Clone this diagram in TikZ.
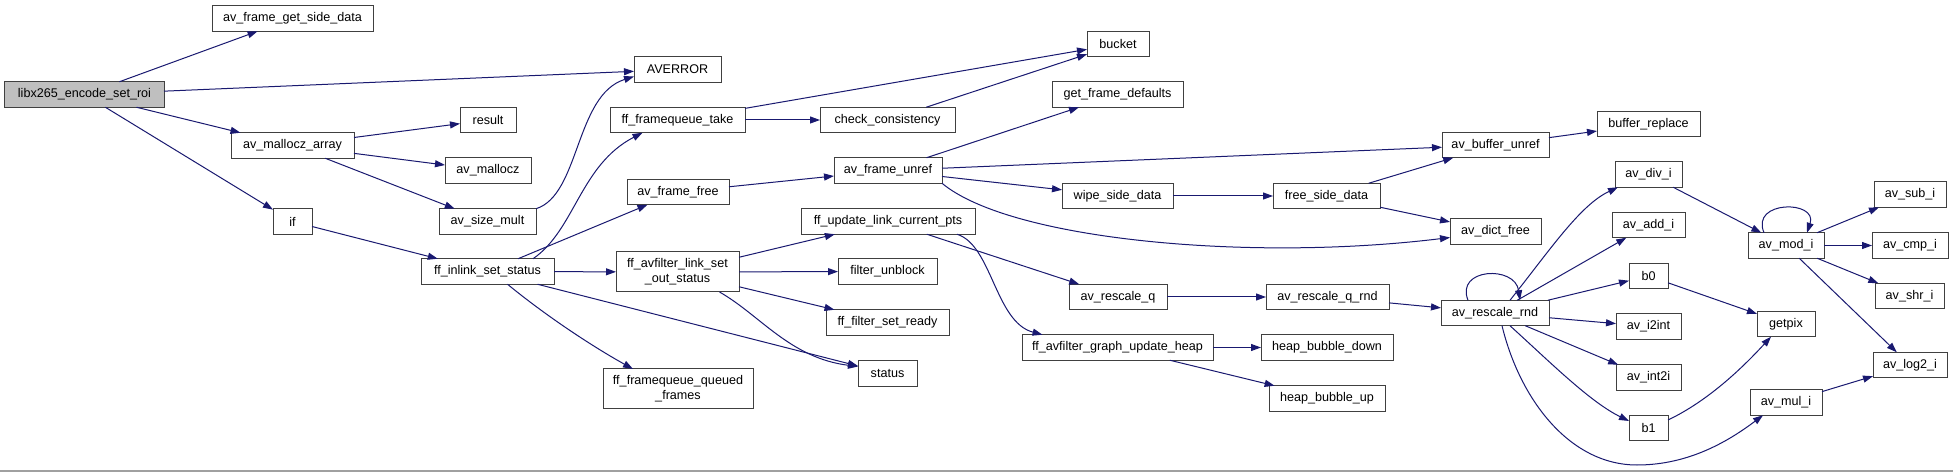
\documentclass[tikz,border=0pt]{standalone}
\usepackage{fontspec}
\setmainfont{Liberation Sans}
\usetikzlibrary{arrows.meta}
\definecolor{edgec}{HTML}{191970}
\definecolor{boxc}{HTML}{404040}
\definecolor{rootc}{HTML}{BFBFBF}
\definecolor{rulec}{HTML}{A0A0A0}
\begin{document}
\begin{tikzpicture}[x=1bp,y=-1bp,
 box/.style={draw=boxc, fill=white, line width=1bp, minimum height=25.5bp, inner sep=0pt, outer sep=0pt, font=\fontsize{12.6bp}{15bp}\selectfont, align=center},
 tall/.style={minimum height=40bp},
 edge/.style={draw=edgec, line width=1bp, -{Triangle[length=10bp,width=7bp]}},
]
\useasboundingbox (0,0) rectangle (1953,472);
\fill[white] (0,0) rectangle (1953,472);
\draw[rulec, line width=1.2bp] (0,471) -- (1953,471);

% nodes
\node[box, fill=rootc, minimum width=159bp] (root) at (84.5,94.5) {libx265\_encode\_set\_roi};
\node[box, minimum width=161bp] (afgsd) at (292.5,18.5) {av\_frame\_get\_side\_data};
\node[box, minimum width=87bp] (averror) at (677.5,69.5) {AVERROR};
\node[box, minimum width=123bp] (mza) at (292.5,145.5) {av\_mallocz\_array};
\node[box, minimum width=56bp] (result) at (488,120) {result};
\node[box, minimum width=86bp] (mz) at (488,170.5) {av\_mallocz};
\node[box, minimum width=97bp] (sizemult) at (487.5,221.5) {av\_size\_mult};
\node[box, minimum width=39bp] (if) at (292.5,221.5) {if};
\node[box, minimum width=133bp] (inlink) at (487.5,271.5) {ff\_inlink\_set\_status};
\node[box, minimum width=135bp] (fqtake) at (677.5,120) {ff\_framequeue\_take};
\node[box, minimum width=135bp] (check) at (887.5,120) {check\_consistency};
\node[box, minimum width=108bp] (unref) at (888,170.5) {av\_frame\_unref};
\node[box, minimum width=102bp] (ffree) at (678,192) {av\_frame\_free};
\node[box, minimum width=174bp] (updpts) at (888,221.5) {ff\_update\_link\_current\_pts};
\node[box, tall, minimum width=123bp] (setout) at (677.5,272) {ff\_avfilter\_link\_set\\\_out\_status};
\node[box, minimum width=99bp] (unblock) at (887.5,271.5) {filter\_unblock};
\node[box, minimum width=123bp] (ready) at (887.5,322.5) {ff\_filter\_set\_ready};
\node[box, minimum width=59bp] (status) at (887.5,373.5) {status};
\node[box, tall, minimum width=150bp] (queued) at (678,389) {ff\_framequeue\_queued\\\_frames};
\node[box, minimum width=62bp] (bucket) at (1118,44) {bucket};
\node[box, minimum width=131bp] (getdef) at (1117.5,94.5) {get\_frame\_defaults};
\node[box, minimum width=111bp] (wipe) at (1117.5,196) {wipe\_side\_data};
\node[box, minimum width=107bp] (freesd) at (1326.5,196) {free\_side\_data};
\node[box, minimum width=107bp] (bufunref) at (1495.5,145) {av\_buffer\_unref};
\node[box, minimum width=91bp] (dictfree) at (1495.5,231.5) {av\_dict\_free};
\node[box, minimum width=98bp] (rq) at (1118,297) {av\_rescale\_q};
\node[box, minimum width=123bp] (rqr) at (1327.5,297) {av\_rescale\_q\_rnd};
\node[box, minimum width=108bp] (rr) at (1495,313) {av\_rescale\_rnd};
\node[box, minimum width=191bp] (heap) at (1117.5,347.5) {ff\_avfilter\_graph\_update\_heap};
\node[box, minimum width=132bp] (hdown) at (1327,347.5) {heap\_bubble\_down};
\node[box, minimum width=116bp] (hup) at (1327,398.5) {heap\_bubble\_up};
\node[box, minimum width=103bp] (bufrep) at (1648.5,124) {buffer\_replace};
\node[box, minimum width=67bp] (divi) at (1648.5,174.5) {av\_div\_i};
\node[box, minimum width=73bp] (addi) at (1648.5,225) {av\_add\_i};
\node[box, minimum width=39bp] (b0) at (1648.5,276) {b0};
\node[box, minimum width=65bp] (i2int) at (1648.5,326.5) {av\_i2int};
\node[box, minimum width=65bp] (int2i) at (1648.5,377.5) {av\_int2i};
\node[box, minimum width=39bp] (b1) at (1648.5,428) {b1};
\node[box, minimum width=76bp] (modi) at (1786,245.5) {av\_mod\_i};
\node[box, minimum width=58bp] (getpix) at (1786,324) {getpix};
\node[box, minimum width=72bp] (muli) at (1786,402.5) {av\_mul\_i};
\node[box, minimum width=72bp] (subi) at (1910,194.5) {av\_sub\_i};
\node[box, minimum width=76bp] (cmpi) at (1910,245.5) {av\_cmp\_i};
\node[box, minimum width=69bp] (shri) at (1909.5,296) {av\_shr\_i};
\node[box, minimum width=74bp] (log2) at (1910,365) {av\_log2\_i};

% edges
\draw[edge] (root) -- (afgsd);
\draw[edge] (root) -- (averror);
\draw[edge] (root) -- (mza);
\draw[edge] (root) -- (if);
\draw[edge] (mza) -- (result);
\draw[edge] (mza) -- (mz);
\draw[edge] (mza) -- (sizemult);
\draw[edge] (sizemult.north east) .. controls (580,195) and (575,95) .. ([yshift=-7bp]averror.west);
\draw[edge] (if) -- (inlink);
\draw[edge] ([xshift=45.5bp]inlink.north) .. controls (575,230) and (580,165) .. ([xshift=-35bp]fqtake.south);
\draw[edge] (inlink) -- (ffree);
\draw[edge] (inlink) -- (setout);
\draw[edge] (inlink) -- (status);
\draw[edge] ([xshift=20bp]inlink.south) .. controls (545,315) and (590,345) .. ([xshift=-45bp]queued.north);
\draw[edge] (fqtake) -- (bucket);
\draw[edge] (fqtake) -- (check);
\draw[edge] (check) -- (bucket);
\draw[edge] (ffree) -- (unref);
\draw[edge] (unref) -- (getdef);
\draw[edge] (unref) -- (bufunref);
\draw[edge] (unref) -- (wipe);
\draw[edge] (unref.south east) .. controls (1010,240) and (1250,262) .. ([yshift=-6bp]dictfree.west);
\draw[edge] (wipe) -- (freesd);
\draw[edge] (freesd) -- (bufunref);
\draw[edge] (freesd) -- (dictfree);
\draw[edge] (bufunref) -- (bufrep);
\draw[edge] (setout) -- (updpts);
\draw[edge] (setout) -- (unblock);
\draw[edge] (setout) -- (ready);
\draw[edge] ([xshift=42bp]setout.south) .. controls (760,315) and (790,358) .. ([yshift=7bp]status.west);
\draw[edge] (updpts) -- (rq);
\draw[edge] ([xshift=69bp]updpts.south) .. controls (992,245) and (995,322) .. ([xshift=-75bp]heap.north);
\draw[edge] (rq) -- (rqr);
\draw[edge] (rqr) -- (rr);
\draw[edge] (heap) -- (hdown);
\draw[edge] (heap) -- (hup);
\draw[edge] ([xshift=-27bp]rr.north) .. controls (1455,268) and (1515,265) .. ([xshift=25bp]rr.north);
\draw[edge] ([xshift=15bp]rr.north) .. controls (1550,250) and (1580,205) .. ([xshift=3bp]divi.south west);
\draw[edge] (rr) -- (addi);
\draw[edge] (rr) -- (b0);
\draw[edge] (rr) -- (i2int);
\draw[edge] (rr) -- (int2i);
\draw[edge] ([xshift=15bp]rr.south) .. controls (1550,362) and (1590,402) .. ([yshift=7bp]b1.west);
\draw[edge] ([xshift=7bp]rr.south) .. controls (1520,400) and (1570,465) .. (1637,465) .. controls (1690,465) and (1730,440) .. ([xshift=-23bp]muli.south);
\draw[edge] (divi) -- (modi);
\draw[edge] ([xshift=-22bp]modi.north) .. controls (1750,200) and (1818,200) .. ([xshift=21bp]modi.north);
\draw[edge] (modi) -- (subi);
\draw[edge] (modi) -- (cmpi);
\draw[edge] (modi) -- (shri);
\draw[edge] (modi) -- (log2);
\draw[edge] (b0) -- (getpix);
\draw[edge] ([yshift=8bp]b1.east) .. controls (1710,400) and (1745,365) .. ([xshift=-15bp]getpix.south);
\draw[edge] (muli) -- (log2);
\end{tikzpicture}
\end{document}
